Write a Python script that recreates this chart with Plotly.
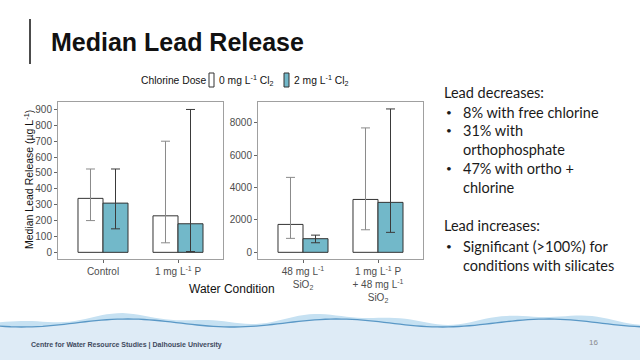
import numpy as np
import plotly.graph_objects as go

W, H = 640, 360

# ---------------- data ----------------
series_names = ["0 mg L<sup>-1</sup> Cl<sub>2</sub>", "2 mg L<sup>-1</sup> Cl<sub>2</sub>"]

cats_left = ["Control", "1 mg L<sup>-1</sup> P"]
no_cl_left = [340, 230]
no_cl_left_lo = [200, 60]
no_cl_left_hi = [525, 700]
cl_left = [310, 180]
cl_left_lo = [148, 5]
cl_left_hi = [525, 900]

cats_right = ["48 mg L<sup>-1</sup><br>SiO<sub>2</sub>",
              "1 mg L<sup>-1</sup> P<br>+ 48 mg L<sup>-1</sup><br>SiO<sub>2</sub>"]
no_cl_right = [1720, 3260]
no_cl_right_lo = [860, 1390]
no_cl_right_hi = [4620, 7670]
cl_right = [840, 3080]
cl_right_lo = [590, 1230]
cl_right_hi = [1060, 8840]

left_ticks = [0, 100, 200, 300, 400, 500, 600, 700, 800, 900]
right_ticks = [0, 2000, 4000, 6000, 8000]

bullets_dec = ["8% with free chlorine", "31% with<br>orthophosphate", "47% with ortho +<br>chlorine"]
bullets_inc = ["Significant (>100%) for<br>conditions with silicates"]

# ---------------- style ----------------
WHITE = "#ffffff"
TEAL = "#72b8c9"
OUTLINE = "#333333"
FONT = "Liberation Sans, Arial, sans-serif"
TXT = "Lato, Liberation Sans, sans-serif"


def px(x):
    return x / W


def py(y):
    return 1 - y / H


def err(vals, lo, hi):
    return dict(type="data", symmetric=False,
                array=[h - v for v, h in zip(vals, hi)],
                arrayminus=[v - l for v, l in zip(vals, lo)])


fig = go.Figure()

for (cats, xa, ya, a, alo, ahi, b, blo, bhi) in [
    (cats_left, "x", "y", no_cl_left, no_cl_left_lo, no_cl_left_hi, cl_left, cl_left_lo, cl_left_hi),
    (cats_right, "x2", "y2", no_cl_right, no_cl_right_lo, no_cl_right_hi, cl_right, cl_right_lo, cl_right_hi),
]:
    e1 = err(a, alo, ahi)
    e1.update(color="#8a8a8a", thickness=1, width=4.5)
    fig.add_trace(go.Bar(x=cats, y=a, xaxis=xa, yaxis=ya, name=series_names[0],
                         marker=dict(color=WHITE, line=dict(color=OUTLINE, width=1)),
                         error_y=e1, offsetgroup="a", showlegend=False))
    e2 = err(b, blo, bhi)
    e2.update(color="#3a3a3a", thickness=1, width=4.5)
    fig.add_trace(go.Bar(x=cats, y=b, xaxis=xa, yaxis=ya, name=series_names[1],
                         marker=dict(color=TEAL, line=dict(color=OUTLINE, width=1)),
                         error_y=e2, offsetgroup="b", showlegend=False))

axis_common = dict(showline=True, mirror=True, linecolor="#a0a0a0", linewidth=1,
                   ticks="outside", ticklen=3, tickcolor="#666666", showgrid=False,
                   zeroline=False, tickfont=dict(family=FONT, size=10, color="#4d4d4d"))

fig.update_layout(
    width=W, height=H, autosize=False,
    margin=dict(l=0, r=0, t=0, b=0),
    paper_bgcolor="white", plot_bgcolor="white",
    barmode="group", bargap=0.333, bargroupgap=0,
    xaxis=dict(domain=[px(58), px(223)], anchor="y", range=[-0.6, 1.6], type="category",
               **axis_common),
    yaxis=dict(domain=[py(259), py(102)], anchor="x", range=[-42, 947],
               tickvals=left_ticks, **axis_common),
    xaxis2=dict(domain=[px(258), px(423)], anchor="y2", range=[-0.6, 1.6], type="category",
                **axis_common),
    yaxis2=dict(domain=[py(259), py(102)], anchor="x2", range=[-412, 9268],
                tickvals=right_ticks, **axis_common),
)

shapes = []
ann = []

# slide title & accent line
shapes.append(dict(type="line", xref="paper", yref="paper", x0=px(30), x1=px(30),
                   y0=py(19), y1=py(64), line=dict(color="#111111", width=1.5)))
ann.append(dict(text="<b>Median Lead Release</b>", x=px(49), y=py(42), xref="paper", yref="paper",
                xanchor="left", yanchor="middle", showarrow=False,
                font=dict(family=FONT, size=25, color="#111111")))

# axis titles
ann.append(dict(text="Median Lead Release (µg L<sup>-1</sup>)", x=px(28), y=py(180),
                xref="paper", yref="paper", textangle=-90, showarrow=False,
                xanchor="center", yanchor="middle",
                font=dict(family=FONT, size=10.5, color="#111111")))
ann.append(dict(text="Water Condition", x=px(232), y=py(289), xref="paper", yref="paper",
                showarrow=False, xanchor="center", yanchor="middle",
                font=dict(family=FONT, size=12, color="#111111")))

# legend (manual)
ly = 80
ann.append(dict(text="Chlorine Dose", x=px(139), y=py(ly), xref="paper", yref="paper",
                showarrow=False, xanchor="left", yanchor="middle",
                font=dict(family=FONT, size=10.3, color="#111111")))
for x0, col, label_x, name in [(209, WHITE, 217, series_names[0]), (284, TEAL, 292, series_names[1])]:
    shapes.append(dict(type="rect", xref="paper", yref="paper", x0=px(x0), x1=px(x0 + 5),
                       y0=py(ly + 7), y1=py(ly - 7), fillcolor=col,
                       line=dict(color=OUTLINE, width=1)))
    ann.append(dict(text=name, x=px(label_x), y=py(ly), xref="paper", yref="paper",
                    showarrow=False, xanchor="left", yanchor="middle",
                    font=dict(family=FONT, size=10.3, color="#111111")))

# right-side bullet text
tfont = dict(family=TXT, size=14.5, color="#1a1a1a")
bfont = dict(family=TXT, size=10, color="#1a1a1a")
ann.append(dict(text="Lead decreases:", x=px(442), y=py(93), xref="paper", yref="paper",
                showarrow=False, xanchor="left", yanchor="middle", font=tfont))
for yb, txt in zip([112, 130, 168], bullets_dec):
    ann.append(dict(text="•", x=px(444), y=py(yb), xref="paper", yref="paper",
                    showarrow=False, xanchor="left", yanchor="middle", font=bfont))
    ann.append(dict(text=txt, x=px(461), y=py(yb), xref="paper", yref="paper",
                    showarrow=False, xanchor="left", yanchor="top" if "<br>" in txt else "middle",
                    yshift=10 if "<br>" in txt else 0, align="left", font=tfont))
ann.append(dict(text="Lead increases:", x=px(442), y=py(225), xref="paper", yref="paper",
                showarrow=False, xanchor="left", yanchor="middle", font=tfont))
for yb, txt in zip([246], bullets_inc):
    ann.append(dict(text="•", x=px(444), y=py(yb), xref="paper", yref="paper",
                    showarrow=False, xanchor="left", yanchor="middle", font=bfont))
    ann.append(dict(text=txt, x=px(461), y=py(yb), xref="paper", yref="paper",
                    showarrow=False, xanchor="left", yanchor="top", yshift=10,
                    align="left", font=tfont))

# footer water band (decorative)
xs = np.linspace(0, W, 121)
top = 323 + 4.0 * np.sin(2 * np.pi * xs / 210.0 + 0.9)
splash = top - 4 - 2.0 * np.sin(2 * np.pi * xs / 95.0)
path_s = "M 0 0 " + " ".join(f"L {px(x):.4f} {py(y):.4f}" for x, y in zip(xs, splash)) + " L 1 0 Z"
shapes.append(dict(type="path", xref="paper", yref="paper", path=path_s,
                   fillcolor="#c6e1f2", line=dict(width=0), layer="below"))
path = "M 0 0 " + " ".join(f"L {px(x):.4f} {py(y):.4f}" for x, y in zip(xs, top)) + " L 1 0 Z"
shapes.append(dict(type="path", xref="paper", yref="paper", path=path,
                   fillcolor="#deebf6", line=dict(width=0), layer="below"))
line_path = "M " + " L ".join(f"{px(x):.4f} {py(y):.4f}" for x, y in zip(xs, top))
shapes.append(dict(type="path", xref="paper", yref="paper", path=line_path,
                   line=dict(color="#5a98c6", width=1.3), layer="below"))
ann.append(dict(text="<b>Centre for Water Resource Studies | Dalhousie University</b>",
                x=px(29), y=py(345), xref="paper", yref="paper", showarrow=False,
                xanchor="left", yanchor="middle",
                font=dict(family=FONT, size=7, color="#3e4a5e")))
ann.append(dict(text="16", x=px(593), y=py(342), xref="paper", yref="paper", showarrow=False,
                xanchor="center", yanchor="middle",
                font=dict(family=FONT, size=8, color="#8a8a8a")))

fig.update_layout(shapes=shapes, annotations=ann)

fig.write_html("out.html", config={"displayModeBar": False},
               post_script="document.body.style.margin='0';")
